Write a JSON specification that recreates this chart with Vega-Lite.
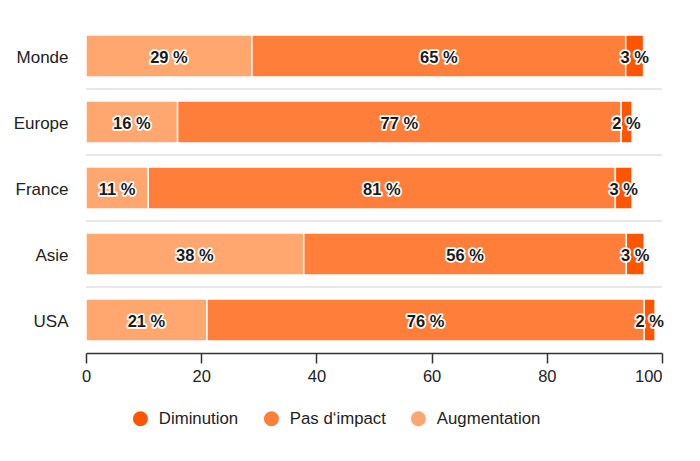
{
  "$schema": "https://vega.github.io/schema/vega-lite/v6.json",
  "width": 576,
  "height": 330,
  "autosize": {"type": "none"},
  "padding": {"left": 86, "top": 23, "right": 38, "bottom": 108},
  "background": "white",
  "config": {"view": {"stroke": null}, "font": "Liberation Sans"},
  "data": {
    "values": [
      {"pays": "Monde", "categorie": "Augmentation", "ordre": 1, "valeur": 28.8, "etiquette": "29 %"},
      {"pays": "Monde", "categorie": "Pas d‘impact", "ordre": 2, "valeur": 64.9, "etiquette": "65 %"},
      {"pays": "Monde", "categorie": "Diminution", "ordre": 3, "valeur": 3.1, "etiquette": "3 %"},
      {"pays": "Europe", "categorie": "Augmentation", "ordre": 1, "valeur": 15.9, "etiquette": "16 %"},
      {"pays": "Europe", "categorie": "Pas d‘impact", "ordre": 2, "valeur": 77.0, "etiquette": "77 %"},
      {"pays": "Europe", "categorie": "Diminution", "ordre": 3, "valeur": 1.9, "etiquette": "2 %"},
      {"pays": "France", "categorie": "Augmentation", "ordre": 1, "valeur": 10.8, "etiquette": "11 %"},
      {"pays": "France", "categorie": "Pas d‘impact", "ordre": 2, "valeur": 81.1, "etiquette": "81 %"},
      {"pays": "France", "categorie": "Diminution", "ordre": 3, "valeur": 2.9, "etiquette": "3 %"},
      {"pays": "Asie", "categorie": "Augmentation", "ordre": 1, "valeur": 37.8, "etiquette": "38 %"},
      {"pays": "Asie", "categorie": "Pas d‘impact", "ordre": 2, "valeur": 56.0, "etiquette": "56 %"},
      {"pays": "Asie", "categorie": "Diminution", "ordre": 3, "valeur": 3.1, "etiquette": "3 %"},
      {"pays": "USA", "categorie": "Augmentation", "ordre": 1, "valeur": 21.0, "etiquette": "21 %"},
      {"pays": "USA", "categorie": "Pas d‘impact", "ordre": 2, "valeur": 75.9, "etiquette": "76 %"},
      {"pays": "USA", "categorie": "Diminution", "ordre": 3, "valeur": 1.9, "etiquette": "2 %"}
    ]
  },
  "layer": [
    {
      "mark": {"type": "bar", "stroke": "white", "strokeWidth": 1.5},
      "encoding": {
        "y": {
          "field": "pays", "type": "nominal",
          "sort": ["Monde", "Europe", "France", "Asie", "USA"],
          "scale": {"paddingInner": 0.364, "paddingOuter": 0.182},
          "axis": {"title": null, "domain": false, "ticks": false, "grid": false, "labelFontSize": 17, "labelColor": "#222", "labelPadding": 18, "labelOffset": 2}
        },
        "x": {
          "field": "valeur", "type": "quantitative", "stack": "zero",
          "scale": {"domain": [0, 100], "nice": false},
          "axis": {
            "title": null, "values": [0, 20, 40, 60, 80, 100], "grid": false,
            "domainColor": "#333", "domainWidth": 1.5, "tickColor": "#333", "tickWidth": 1.5, "tickSize": 10,
            "labelFontSize": 16.5, "labelColor": "#222", "labelPadding": 5,
            "labelAlign": {"condition": {"test": "datum.value == 100", "value": "right"}, "value": "center"}
          }
        },
        "order": {"field": "ordre", "type": "quantitative"},
        "color": {
          "field": "categorie", "type": "nominal",
          "scale": {"domain": ["Diminution", "Pas d‘impact", "Augmentation"], "range": ["#ff5500", "#ff7e39", "#ffa76f"]},
          "legend": {
            "title": null, "orient": "none", "direction": "horizontal", "legendX": 46, "legendY": 387,
            "symbolType": "circle", "symbolSize": 225, "symbolStrokeWidth": 0, "symbolOpacity": 1,
            "labelFontSize": 16.8, "labelColor": "#222", "labelOffset": 10, "columnPadding": 24
          }
        }
      }
    },
    {
      "mark": {"type": "text", "fontWeight": "bold", "fontSize": 16.5, "dy": 2, "stroke": "white", "strokeWidth": 3.5, "strokeJoin": "round", "color": "white"},
      "encoding": {
        "y": {"field": "pays", "type": "nominal", "sort": ["Monde", "Europe", "France", "Asie", "USA"]},
        "x": {"field": "valeur", "type": "quantitative", "stack": "zero", "bandPosition": 0.5},
        "order": {"field": "ordre", "type": "quantitative"},
        "text": {"field": "etiquette"}
      }
    },
    {
      "mark": {"type": "text", "fontWeight": "bold", "fontSize": 16.5, "dy": 2, "color": "#1a1a1a"},
      "encoding": {
        "y": {"field": "pays", "type": "nominal", "sort": ["Monde", "Europe", "France", "Asie", "USA"]},
        "x": {"field": "valeur", "type": "quantitative", "stack": "zero", "bandPosition": 0.5},
        "order": {"field": "ordre", "type": "quantitative"},
        "text": {"field": "etiquette"}
      }
    },
    {
      "transform": [{"filter": "datum.categorie === 'Augmentation' && datum.pays !== 'USA'"}],
      "mark": {"type": "rule", "color": "#e8e8e8", "strokeWidth": 2, "yOffset": 12},
      "encoding": {
        "y": {"field": "pays", "type": "nominal", "sort": ["Monde", "Europe", "France", "Asie", "USA"], "bandPosition": 1},
        "x": {"datum": 0, "type": "quantitative"},
        "x2": {"datum": 100}
      }
    }
  ]
}
